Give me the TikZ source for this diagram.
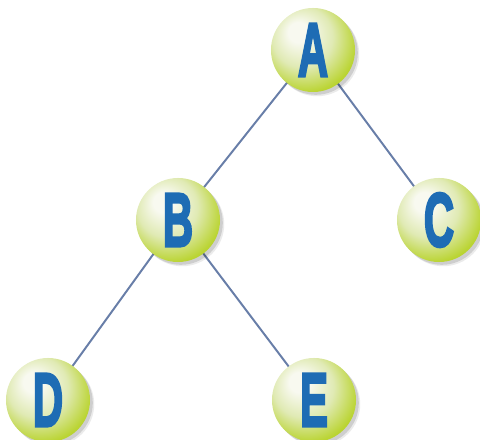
\documentclass[tikz,border=0pt]{standalone}
\usepackage{fontspec}
\newfontfamily\ballfont[FakeBold=4]{Liberation Sans}
\usetikzlibrary{shadows, backgrounds}

\definecolor{ballhi}{RGB}{248,249,240}
\definecolor{ballmid}{RGB}{224,234,180}
\definecolor{balllow}{RGB}{186,212,50}
\definecolor{balledge}{RGB}{160,192,24}
\definecolor{letterblue}{RGB}{30,108,180}
\definecolor{edgeblue}{RGB}{104,126,168}

\pgfdeclareradialshading{greenball}{\pgfpoint{-10bp}{12bp}}{%
  color(0bp)=(ballhi); color(6bp)=(ballhi); color(18bp)=(ballmid);
  color(30bp)=(balllow); color(40bp)=(balledge); color(50bp)=(balledge)}

\newcommand{\balltext}[1]{\scalebox{0.55}[1]{\ballfont\bfseries #1}}

\tikzset{
  ball/.style={circle, minimum size=2.1cm, inner sep=0pt, shading=greenball,
    drop shadow={shadow xshift=3pt, shadow yshift=-3pt, fill=black, opacity=0.08, scale=1.06},
    drop shadow={shadow xshift=2pt, shadow yshift=-2pt, fill=black, opacity=0.12},
    text=letterblue, font=\fontsize{54}{54}\selectfont},
  link/.style={draw=edgeblue, line width=1.4pt}
}

\begin{document}
\begin{tikzpicture}[x=0.025cm, y=0.025cm]
    \useasboundingbox (0,0) rectangle (480,440);

    \node[ball] (A) at (313,390) {\balltext{A}};
    \node[ball] (B) at (178,220) {\balltext{B}};
    \node[ball] (C) at (439,220) {\balltext{C}};
    \node[ball] (D) at (48,40) {\balltext{D}};
    \node[ball] (E) at (314,40) {\balltext{E}};

    \begin{pgfonlayer}{background}
      \draw[link] (A.center) -- (B.center);
      \draw[link] (A.center) -- (C.center);
      \draw[link] (B.center) -- (D.center);
      \draw[link] (B.center) -- (E.center);
    \end{pgfonlayer}
\end{tikzpicture}
\end{document}
